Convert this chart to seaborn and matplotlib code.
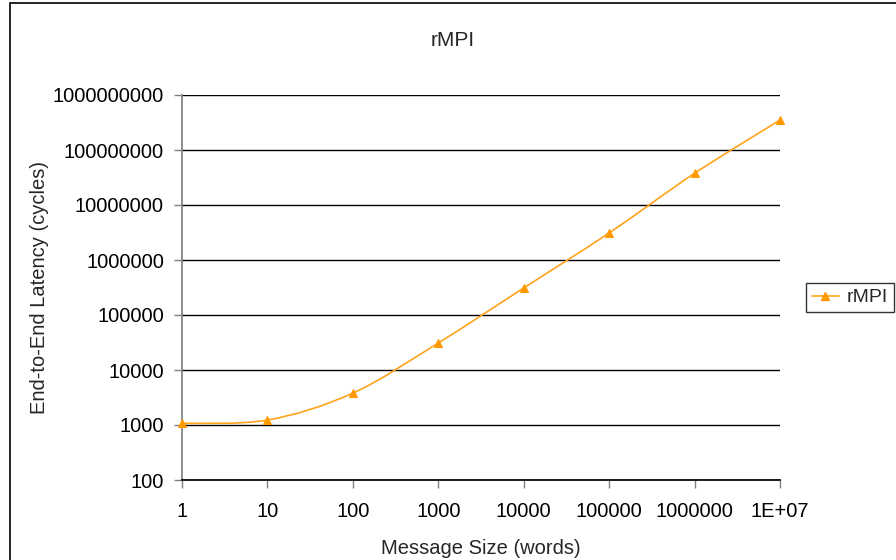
import numpy as np
import pandas as pd
import matplotlib
matplotlib.use("Agg")
import matplotlib.pyplot as plt
from matplotlib.path import Path
from matplotlib.patches import PathPatch, Rectangle
from matplotlib.lines import Line2D
from matplotlib.ticker import FixedLocator, FixedFormatter, NullLocator
import seaborn as sns

# data
msg_size = [1, 10, 100, 1000, 10000, 100000, 1000000, 10000000]
latency = [1070, 1230, 3800, 31000, 310000, 3100000, 37700000, 350000000]
x_tick_labels = ["1", "10", "100", "1000", "10000", "100000", "1000000", "1E+07"]
y_ticks = [100, 1000, 10000, 100000, 1000000, 10000000, 100000000, 1000000000]

df = pd.DataFrame({"size": msg_size, "latency": latency})

sns.set_theme(style="white")
plt.rcParams["font.family"] = ["Liberation Sans", "DejaVu Sans"]

line_col = "#FFA31A"
mark_col = "#FF9900"

fig = plt.figure(figsize=(8.96, 5.6), dpi=100)
ax = fig.add_axes([182 / 896, 1 - 480 / 560, (780 - 182) / 896, (480 - 95) / 560])
ax.set_xscale("log")
ax.set_yscale("log")

# excel-style smoothed line: bezier through the points in log space
L = np.log10(df[["size", "latency"]].to_numpy(dtype=float))
verts = [L[0]]
codes = [Path.MOVETO]
n = len(L)
for i in range(n - 1):
    p_prev = L[max(i - 1, 0)]
    p_next2 = L[min(i + 2, n - 1)]
    c1 = L[i] + (L[i + 1] - p_prev) / 6
    c2 = L[i + 1] - (p_next2 - L[i]) / 6
    verts += [c1, c2, L[i + 1]]
    codes += [Path.CURVE4] * 3
verts = 10 ** np.array(verts)
ax.add_patch(PathPatch(Path(verts, codes), fill=False, edgecolor=line_col, lw=1.2, zorder=3))

sns.lineplot(data=df, x="size", y="latency", ax=ax, marker="^", linestyle="",
             color=mark_col, markersize=6, markeredgecolor=mark_col, zorder=4, clip_on=False)

ax.set_xlim(1, 1e7)
ax.set_ylim(100, 1e9)
ax.xaxis.set_major_locator(FixedLocator(msg_size))
ax.xaxis.set_major_formatter(FixedFormatter(x_tick_labels))
ax.xaxis.set_minor_locator(NullLocator())
ax.yaxis.set_major_locator(FixedLocator(y_ticks))
ax.yaxis.set_major_formatter(FixedFormatter([str(v) for v in y_ticks]))
ax.yaxis.set_minor_locator(NullLocator())

ax.grid(axis="y", color="black", lw=1)
ax.grid(axis="x", visible=False)
for s in ["top", "right"]:
    ax.spines[s].set_visible(False)
ax.spines["left"].set_color("#808080")
ax.spines["bottom"].set_color("black")
ax.tick_params(axis="both", which="major", direction="out", length=6, width=1,
               color="#808080", labelsize=14.5, labelcolor="black", pad=7, bottom=True, left=True)
ax.tick_params(axis="x", pad=10)

ax.set_xlabel("Message Size (words)", fontsize=14.5, labelpad=13)
ax.set_ylabel("End-to-End Latency (cycles)", fontsize=14.5, labelpad=3)
fig.text(453 / 896, 1 - 40 / 560, "rMPI", ha="center", va="center", fontsize=15)

handle = Line2D([], [], color=line_col, marker="^", markersize=6,
                markerfacecolor=mark_col, markeredgecolor=mark_col, lw=1.2)
leg = fig.legend([handle], ["rMPI"], loc="center left", bbox_to_anchor=(806 / 896, 1 - 297.5 / 560),
                 frameon=True, fancybox=False, fontsize=14, handlelength=1.4,
                 borderpad=0.3, handletextpad=0.4, borderaxespad=0)
leg.get_frame().set_edgecolor("black")
leg.get_frame().set_linewidth(1)

# chart area border
fig.patches.append(Rectangle((10 / 896, -0.01), 1, 1 - 3 / 560 + 0.01, transform=fig.transFigure,
                             fill=False, edgecolor="black", lw=1.2))

fig.savefig("out.png", dpi=100)
